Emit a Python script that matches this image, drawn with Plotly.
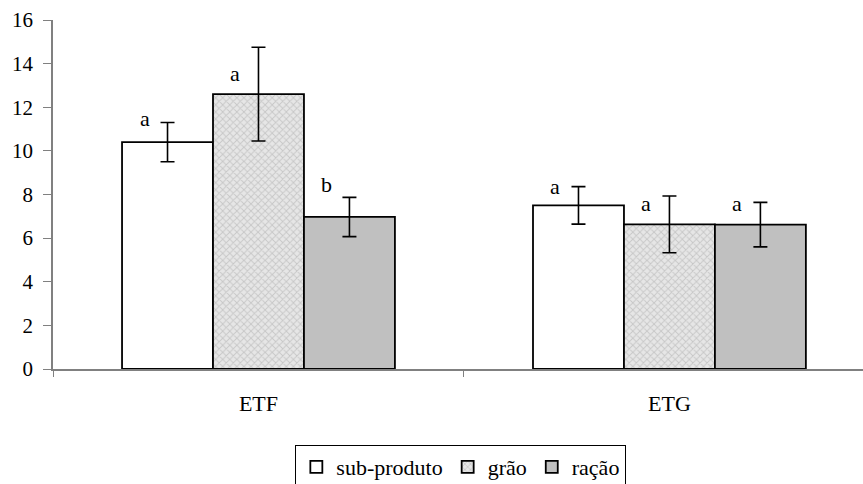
import plotly.graph_objects as go

categories = ["ETF", "ETG"]
series_names = ["sub-produto", "grão", "ração"]
values = {
    "sub-produto": [10.4, 7.5],
    "grão": [12.6, 6.63],
    "ração": [6.97, 6.62],
}
errors = {
    "sub-produto": [0.9, 0.86],
    "grão": [2.15, 1.3],
    "ração": [0.9, 1.02],
}
letters = {
    "sub-produto": ["a", "a"],
    "grão": ["a", "a"],
    "ração": ["b", "a"],
}
letter_heights = {
    "sub-produto": [11.5, 8.36],
    "grão": [13.56, 7.6],
    "ração": [8.44, 7.6],
}
y_ticks = [0, 2, 4, 6, 8, 10, 12, 14, 16]

FONT = "Liberation Serif"
styles = {
    "sub-produto": dict(color="#ffffff", pattern=dict(shape="")),
    "grão": dict(color="#e6e6e6", pattern=dict(shape="x", fgcolor="#a8a8a8", bgcolor="#e6e6e6", size=5, solidity=0.35)),
    "ração": dict(color="#c0c0c0", pattern=dict(shape="")),
}

fig = go.Figure()
for name in series_names:
    st = styles[name]
    fig.add_trace(go.Bar(
        name=name,
        x=categories,
        y=values[name],
        marker=dict(color=st["color"], pattern=st["pattern"],
                    line=dict(color="black", width=1.8)),
        error_y=dict(type="data", array=errors[name], color="black",
                     thickness=1.6, width=7, visible=True),
    ))

bargap = 0.336
bar_w = (1 - bargap) / len(series_names)
annotations = []
for i, name in enumerate(series_names):
    offset = (i - (len(series_names) - 1) / 2) * bar_w
    for j, cat in enumerate(categories):
        annotations.append(dict(
            x=j + offset, y=letter_heights[name][j], xref="x", yref="y",
            text=letters[name][j], showarrow=False, xshift=-23,
            font=dict(family=FONT, size=22, color="black"),
        ))

fig.update_layout(
    width=863, height=484,
    margin=dict(l=53, r=0, t=20, b=115, autoexpand=False),
    paper_bgcolor="white", plot_bgcolor="white",
    barmode="group", bargap=bargap, bargroupgap=0,
    font=dict(family=FONT, size=21, color="black"),
    showlegend=True,
    legend=dict(
        orientation="h",
        xref="container", x=0.534, xanchor="center",
        yref="container", y=0.0806, yanchor="top",
        bordercolor="black", borderwidth=1, bgcolor="white",
        font=dict(family=FONT, size=22, color="black"),
        itemwidth=30, tracegroupgap=0,
    ),
    annotations=annotations,
)
fig.update_xaxes(
    type="category", range=[-0.5, 1.471],
    showline=True, linecolor="#808080", linewidth=1.5,
    ticks="outside", tickson="boundaries", ticklen=6, tickcolor="#808080",
    showgrid=False, zeroline=False,
    tickfont=dict(family=FONT, size=22, color="black"),
    ticklabelstandoff=14,
)
fig.update_yaxes(
    range=[0, 16], tickvals=y_ticks,
    showline=True, linecolor="#808080", linewidth=1.5,
    ticks="outside", ticklen=8, tickcolor="#808080",
    showgrid=False, zeroline=False,
    tickfont=dict(family=FONT, size=21, color="black"),
    ticklabelstandoff=6,
)

fig.write_html("out.html")
